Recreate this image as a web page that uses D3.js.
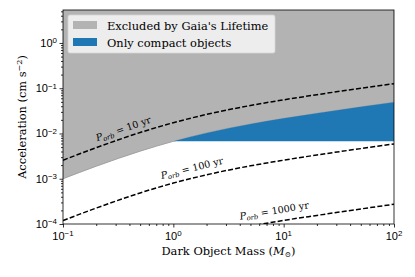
<!DOCTYPE html>
<html>
<head>
<meta charset="utf-8">
<script src="https://cdn.jsdelivr.net/npm/d3@7"></script>
<style>
  body { margin: 0; background: #fff; }
  svg { display: block; font-family: "DejaVu Serif", serif; }
</style>
</head>
<body>
<div id="chart"></div>
<script>
// values (M in solar masses, acceleration in cm s^-2)
const masses = [0.1, 0.2, 0.5, 1, 2, 5, 10, 20, 50, 100];
const orbit10 = [2.57e-3, 4.85e-3, 1.05e-2, 1.73e-2, 2.64e-2, 4.15e-2, 5.54e-2, 7.2e-2, 9.97e-2, 0.126];
const orbit100 = [1.19e-4, 2.25e-4, 4.86e-4, 8.02e-4, 1.22e-3, 1.93e-3, 2.57e-3, 3.35e-3, 4.63e-3, 5.87e-3];
const orbit1000 = [5.55e-6, 1.05e-5, 2.26e-5, 3.73e-5, 5.7e-5, 8.95e-5, 1.2e-4, 1.55e-4, 2.15e-4, 2.73e-4];
const gaiaLimit = [1.0e-3, 1.89e-3, 4.07e-3, 6.72e-3, 1.03e-2, 1.62e-2, 2.16e-2, 2.8e-2, 3.88e-2, 4.92e-2];
const compactFloor = 6.72e-3;
const compactFrom = 1;

const orbitLabels = [
  { period: "10", values: orbit10, at: 0.36, lift: 6 },
  { period: "100", values: orbit100, at: 1.5, lift: 7 },
  { period: "1000", values: orbit1000, at: 8.3, lift: 8 }
];
const legendItems = [
  { label: "Excluded by Gaia's Lifetime", color: "#b3b3b3" },
  { label: "Only compact objects", color: "#1f77b4" }
];
const xTicks = [0.1, 1, 10, 100];
const yTicks = [1e-4, 1e-3, 1e-2, 1e-1, 1];

const width = 415, height = 277;
const margin = { top: 10, right: 21, bottom: 53, left: 63 };
const GRAY = "#b3b3b3";
const BLUE = "#1f77b4";

const svg = d3.select("#chart").append("svg")
  .attr("width", width).attr("height", height);

const x = d3.scaleLog().domain([0.1, 100]).range([margin.left, width - margin.right]);
const y = d3.scaleLog().domain([1e-4, 5.35]).range([height - margin.bottom, margin.top]);

svg.append("defs").append("clipPath").attr("id", "plot-clip")
  .append("rect")
  .attr("x", margin.left).attr("y", margin.top)
  .attr("width", x.range()[1] - x.range()[0])
  .attr("height", y.range()[0] - y.range()[1]);

const plot = svg.append("g").attr("clip-path", "url(#plot-clip)");

const rows = masses.map((m, i) => ({ m, gaia: gaiaLimit[i] }));

// gray excluded region, from the limit curve up to the top
plot.append("path")
  .datum(rows)
  .attr("fill", GRAY)
  .attr("stroke", "#a0a0a0")
  .attr("stroke-width", 1)
  .attr("d", d3.area()
    .x(d => x(d.m))
    .y0(y.range()[1] - 2)
    .y1(d => y(d.gaia))
    .curve(d3.curveMonotoneX));

// blue compact-object band
const compactRows = rows.filter(d => d.m >= compactFrom);
plot.append("path")
  .datum(compactRows)
  .attr("fill", BLUE)
  .attr("d", d3.area()
    .x(d => x(d.m))
    .y0(y(compactFloor))
    .y1(d => y(d.gaia))
    .curve(d3.curveMonotoneX));

// dashed orbital period lines
const line = d3.line()
  .x(d => x(d[0]))
  .y(d => y(d[1]))
  .curve(d3.curveMonotoneX);

orbitLabels.forEach(o => {
  plot.append("path")
    .datum(masses.map((m, i) => [m, o.values[i]]))
    .attr("fill", "none")
    .attr("stroke", "#000")
    .attr("stroke-width", 1.5)
    .attr("stroke-dasharray", "5,2.2")
    .attr("d", line);
});

// labels along the lines
const interp = (vals, m) => {
  const lm = Math.log10(m);
  for (let i = 0; i < masses.length - 1; i++) {
    const a = Math.log10(masses[i]), b = Math.log10(masses[i + 1]);
    if (lm >= a && lm <= b) {
      const t = (lm - a) / (b - a);
      return Math.pow(10, Math.log10(vals[i]) * (1 - t) + Math.log10(vals[i + 1]) * t);
    }
  }
  return vals[vals.length - 1];
};

orbitLabels.forEach(o => {
  const px = x(o.at), py = y(interp(o.values, o.at));
  const m2 = o.at * 1.3;
  const ang = Math.atan2(y(interp(o.values, m2)) - py, x(m2) - px) * 180 / Math.PI;
  const t = svg.append("text")
    .attr("transform", `translate(${px},${py - o.lift}) rotate(${ang})`)
    .attr("text-anchor", "middle")
    .attr("font-size", 9.6)
    .attr("fill", "#000");
  t.append("tspan").attr("font-style", "italic").text("P");
  t.append("tspan").attr("font-style", "italic").attr("font-size", 6.8).attr("dy", 2).text("orb");
  t.append("tspan").attr("dy", -2).text(` = ${o.period} yr`);
});

// axes
const supLabel = (sel, v) => {
  const e = Math.round(Math.log10(v));
  sel.text("10");
  sel.append("tspan").attr("dy", "-0.45em").attr("font-size", "0.72em")
    .text(e < 0 ? "\u2212" + (-e) : String(e));
};

const minorsFor = dom => {
  const out = [];
  for (let e = Math.floor(Math.log10(dom[0])); e <= Math.ceil(Math.log10(dom[1])); e++) {
    for (let k = 2; k <= 9; k++) {
      const v = k * Math.pow(10, e);
      if (v >= dom[0] && v <= dom[1]) out.push(v);
    }
  }
  return out;
};

const xAxis = svg.append("g").attr("transform", `translate(0,${y.range()[0]})`);
xAxis.call(d3.axisBottom(x).tickValues(minorsFor(x.domain())).tickSize(2).tickFormat(""));
xAxis.append("g").call(d3.axisBottom(x).tickValues(xTicks).tickSize(3.5).tickFormat(""))
  .selectAll("text").remove();
xAxis.selectAll(".domain").remove();
xAxis.selectAll("line").attr("stroke", "#000").attr("stroke-width", 0.8);
xAxis.selectAll(".xlab").data(xTicks).join("text")
  .attr("class", "xlab")
  .attr("x", d => x(d)).attr("y", 16)
  .attr("text-anchor", "middle").attr("font-size", 11).attr("fill", "#000")
  .each(function (d) { supLabel(d3.select(this), d); });

const yAxis = svg.append("g").attr("transform", `translate(${x.range()[0]},0)`);
yAxis.call(d3.axisLeft(y).tickValues(minorsFor(y.domain())).tickSize(2).tickFormat(""));
yAxis.append("g").call(d3.axisLeft(y).tickValues(yTicks).tickSize(3.5).tickFormat(""));
yAxis.selectAll(".domain").remove();
yAxis.selectAll("line").attr("stroke", "#000").attr("stroke-width", 0.8);
yAxis.selectAll(".ylab").data(yTicks).join("text")
  .attr("class", "ylab")
  .attr("x", -6).attr("y", d => y(d) + 4)
  .attr("text-anchor", "end").attr("font-size", 11).attr("fill", "#000")
  .each(function (d) { supLabel(d3.select(this), d); });

// frame
svg.append("rect")
  .attr("x", margin.left).attr("y", margin.top)
  .attr("width", x.range()[1] - x.range()[0])
  .attr("height", y.range()[0] - y.range()[1])
  .attr("fill", "none").attr("stroke", "#000").attr("stroke-width", 0.8);

// axis titles
const xt = svg.append("text")
  .attr("x", (x.range()[0] + x.range()[1]) / 2).attr("y", 255)
  .attr("text-anchor", "middle").attr("font-size", 11.4).attr("fill", "#000");
xt.append("tspan").text("Dark Object Mass (");
xt.append("tspan").attr("font-style", "italic").text("M");
xt.append("tspan").attr("font-size", 7.5).attr("dy", 2).text("\u2299");
xt.append("tspan").attr("dy", -2).text(")");

const yt = svg.append("text")
  .attr("transform", `translate(26,${(y.range()[0] + y.range()[1]) / 2}) rotate(-90)`)
  .attr("text-anchor", "middle").attr("font-size", 11.4).attr("fill", "#000");
yt.append("tspan").text("Acceleration (cm s");
yt.append("tspan").attr("font-size", 8).attr("dy", -4).text("\u22122");
yt.append("tspan").attr("dy", 4).text(")");

// legend
const legend = svg.append("g").attr("transform", "translate(68,15)");
legend.append("rect")
  .attr("width", 207).attr("height", 38).attr("rx", 2)
  .attr("fill", "#f0f0f0").attr("fill-opacity", 0.95)
  .attr("stroke", "#d6d6d6").attr("stroke-width", 0.8);
const li = legend.selectAll("g.item").data(legendItems).join("g")
  .attr("class", "item")
  .attr("transform", (d, i) => `translate(5,${6 + i * 17})`);
li.append("rect").attr("width", 24).attr("height", 8).attr("fill", d => d.color);
li.append("text").attr("x", 34).attr("y", 8.5).attr("font-size", 11.4).attr("fill", "#000")
  .text(d => d.label);
</script>
</body>
</html>
